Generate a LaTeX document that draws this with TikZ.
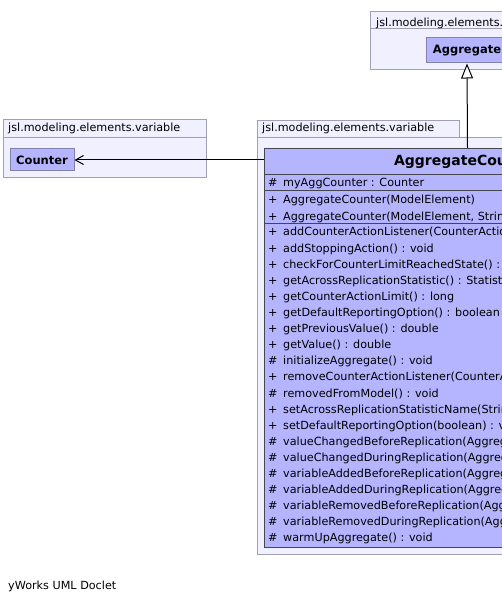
\documentclass[tikz,border=0pt]{standalone}
\usepackage{fontspec}
\setmainfont{DejaVu Sans}
\usetikzlibrary{arrows.meta}
\definecolor{pkgfill}{RGB}{240,240,255}
\definecolor{pkgline}{RGB}{160,160,180}
\definecolor{clsfill}{RGB}{180,180,255}
\definecolor{clsline}{RGB}{70,70,80}
\definecolor{boxline}{RGB}{130,130,175}
\begin{document}
\begin{tikzpicture}[x=1pt,y=-1pt,
  txt/.style={inner sep=0pt, anchor=base west, font=\fontsize{11.2pt}{13pt}\selectfont},
  pkgshape/.style={fill=pkgfill, draw=pkgline, line width=1pt},
  smallcls/.style={fill=clsfill, draw=boxline, line width=1pt, inner sep=0pt,
    minimum height=24pt, font=\fontsize{11.5pt}{13pt}\selectfont\bfseries},
  bigcls/.style={fill=clsfill, draw=clsline, line width=1pt, inner sep=0pt},
  sep/.style={draw=clsline, line width=1pt},
  conn/.style={line width=1pt, draw=black}]
\useasboundingbox (0,0) rectangle (502,593);
\clip (0,0) rectangle (502,593);
\fill[white] (0,0) rectangle (502,593);

% top package
\draw[pkgshape] (370,12) rectangle (573,29);
\draw[pkgshape] (370,29) rectangle (564,70);
\node[txt] (ptop) at (376,26.5) {jsl.modeling.elements.variable};
\node[smallcls, minimum width=82pt, minimum height=25pt] (agg) at (467,50.5) {Aggregate};

% left package
\draw[pkgshape] (3,120) rectangle (206,138);
\draw[pkgshape] (3,138) rectangle (206,178);
\node[txt] (pleft) at (8,131.5) {jsl.modeling.elements.variable};
\node[smallcls, minimum width=64pt, minimum height=22pt] (ctr) at (42,160) {Counter};

% right package
\draw[pkgshape] (257,121) rectangle (459,138);
\draw[pkgshape] (257,138) rectangle (677,554);
\node[txt] (pright) at (262,132) {jsl.modeling.elements.variable};

% class box
\node[bigcls, minimum width=406pt, minimum height=399pt, anchor=north west] (cls) at (264,148) {};
\node[inner sep=0pt, anchor=base, font=\fontsize{14pt}{16pt}\selectfont\bfseries] (title) at (467,166) {AggregateCounter};
\draw[sep] (264,175) -- (670,175);
\draw[sep] (264,191) -- (670,191);
\draw[sep] (264,224) -- (670,224);

% attribute
\node[txt] (av1) at (268,187) {\#};
\node[txt] (an1) at (283,187) {myAggCounter : Counter};
% constructors
\node[txt] (cv1) at (268,204) {+};
\node[txt] (cn1) at (283,204) {AggregateCounter(ModelElement)};
\node[txt] (cv2) at (268,220.3) {+};
\node[txt] (cn2) at (283,220.3) {AggregateCounter(ModelElement, String)};

% methods
\foreach \v/\t [count=\i from 0] in {
  +/{addCounterActionListener(CounterActionListenerIfc) : void},
  +/{addStoppingAction() : void},
  +/{checkForCounterLimitReachedState() : void},
  +/{getAcrossReplicationStatistic() : StatisticAccessorIfc},
  +/{getCounterActionLimit() : long},
  +/{getDefaultReportingOption() : boolean},
  +/{getPreviousValue() : double},
  +/{getValue() : double},
  \#/{initializeAggregate() : void},
  +/{removeCounterActionListener(CounterActionListenerIfc) : void},
  \#/{removedFromModel() : void},
  +/{setAcrossReplicationStatisticName(String) : void},
  +/{setDefaultReportingOption(boolean) : void},
  \#/{valueChangedBeforeReplication(AggregatableIfc) : void},
  \#/{valueChangedDuringReplication(AggregatableIfc) : void},
  \#/{variableAddedBeforeReplication(AggregatableIfc) : void},
  \#/{variableAddedDuringReplication(AggregatableIfc) : void},
  \#/{variableRemovedBeforeReplication(AggregatableIfc) : void},
  \#/{variableRemovedDuringReplication(AggregatableIfc) : void},
  \#/{warmUpAggregate() : void}} {
  \node[txt] (mv\i) at (268,{236+16.1*\i}) {\v};
  \node[txt] (mn\i) at (283,{236+16.1*\i}) {\t};
}

% connectors
\draw[conn, -{Triangle[open, length=15pt, width=12pt, fill=white]}] (cls.north) -- (agg.south);
\draw[conn, -{Straight Barb[length=8pt, width=9pt]}] (ctr.east -| cls.west) -- (ctr.east);

% footer
\node[txt] (foot) at (8,589) {yWorks UML Doclet};
\end{tikzpicture}
\end{document}
